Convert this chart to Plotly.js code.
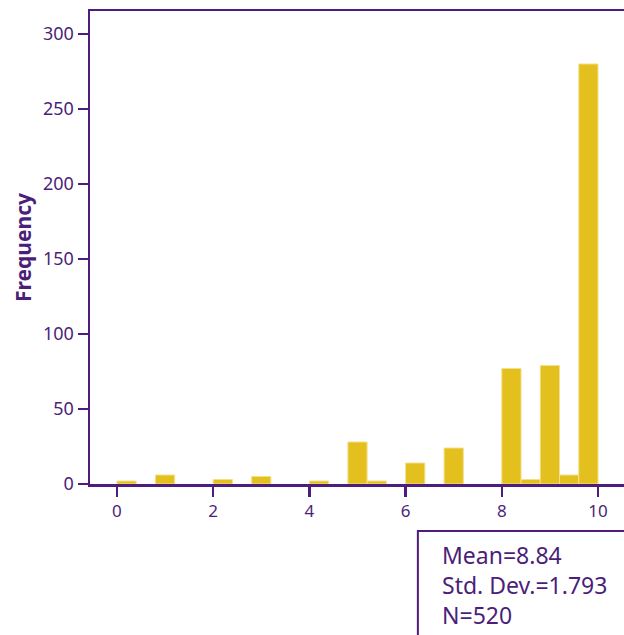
<!DOCTYPE html>
<html>
<head>
<meta charset="utf-8">
<script src="https://cdn.plot.ly/plotly-3.0.1.min.js"></script>
<style>
html,body{margin:0;padding:0;background:#fff;}
#chart{width:624px;height:635px;}
</style>
</head>
<body>
<div id="chart"></div>
<script>
// Histogram bins (left edges, width 0.4) and frequencies
const binStarts = [0.0, 0.8, 2.0, 2.8, 4.0, 4.8, 5.2, 6.0, 6.8, 8.0, 8.4, 8.8, 9.2, 9.6];
const frequencies = [2, 6, 3, 5, 2, 28, 2, 14, 24, 77, 3, 79, 6, 280];
const binWidth = 0.4;
const xTicks = [0, 2, 4, 6, 8, 10];
const yTicks = [0, 50, 100, 150, 200, 250, 300];
const statsLines = ["Mean=8.84", "Std. Dev.=1.793", "N=520"];

const purple = "#4E1C7C";
const textPurple = "#4B1F79";
const font = "'Noto Sans', 'Open Sans', sans-serif";

const trace = {
  type: "bar",
  x: binStarts,
  y: frequencies,
  width: binStarts.map(() => binWidth),
  offset: 0,
  marker: {color: "#E4C01F", line: {color: "#F3E08C", width: 1}},
  hoverinfo: "skip"
};

const layout = {
  width: 624,
  height: 635,
  margin: {l: 90, r: 0, t: 11, b: 151},
  paper_bgcolor: "#ffffff",
  plot_bgcolor: "#ffffff",
  showlegend: false,
  bargap: 0,
  font: {family: font, color: textPurple},
  xaxis: {
    range: [-0.56, 10.54],
    tickvals: xTicks,
    ticktext: xTicks.map(String),
    ticks: "outside",
    ticklen: 10,
    tickwidth: 2.5,
    tickcolor: purple,
    showline: true,
    linecolor: purple,
    linewidth: 2.5,
    mirror: true,
    showgrid: false,
    zeroline: false,
    tickfont: {size: 17, color: textPurple, family: font}
  },
  yaxis: {
    range: [0, 315.3],
    tickvals: yTicks,
    ticktext: yTicks.map(String),
    ticks: "outside",
    ticklen: 10,
    tickwidth: 2.5,
    tickcolor: purple,
    showline: true,
    linecolor: purple,
    linewidth: 2.5,
    showgrid: false,
    zeroline: false,
    tickfont: {size: 18, color: textPurple, family: font},
    title: {text: "<b>Frequency</b>", font: {size: 21, color: textPurple, family: font}, standoff: 6}
  },
  shapes: [{
    type: "rect",
    xref: "paper", yref: "paper",
    x0: 0.614, x1: 1.05, y0: -0.4, y1: -0.0994,
    line: {color: purple, width: 2},
    fillcolor: "rgba(0,0,0,0)"
  }],
  annotations: [{
    xref: "paper", yref: "paper",
    x: 0.655, y: -0.113,
    xanchor: "left", yanchor: "top",
    align: "left",
    showarrow: false,
    text: statsLines.join("<br>"),
    font: {size: 23, color: textPurple, family: font}
  }]
};

Plotly.newPlot("chart", [trace], layout, {displayModeBar: false, staticPlot: true});
</script>
</body>
</html>
